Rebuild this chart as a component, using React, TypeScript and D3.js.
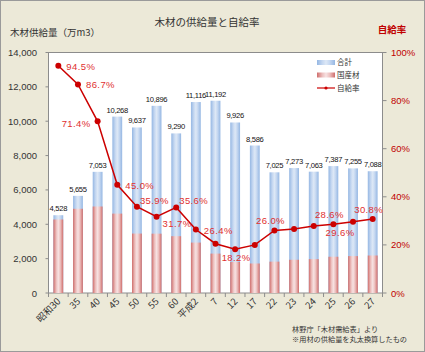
import React from "react";
import * as d3 from "d3";

const categories = ["昭和30", "35", "40", "45", "50", "55", "60", "平成2", "7", "12", "17", "22", "23", "24", "25", "26", "27"];
const totalSupply = [4528, 5655, 7053, 10268, 9637, 10896, 9290, 11116, 11192, 9926, 8586, 7025, 7273, 7063, 7387, 7255, 7088];
const domesticSupply = [4279, 4903, 5036, 4621, 3460, 3454, 3307, 2935, 2294, 1806, 1718, 1826, 1935, 1971, 2111, 2148, 2183];
const selfSufficiency = [94.5, 86.7, 71.4, 45.0, 35.9, 31.7, 35.6, 26.4, 20.5, 18.2, 20.0, 26.0, 26.6, 27.9, 28.6, 29.6, 30.8];
const rateLabelShown = [true, true, true, true, true, true, true, true, false, true, false, true, false, false, true, true, true];
const rateLabelPlace = ["r", "r", "l", "r", "ra", "rb", "ra", "r", "", "b", "", "a", "", "", "a", "lb", "a"];
const leftTicks = [0, 2000, 4000, 6000, 8000, 10000, 12000, 14000];
const rightTicks = [0, 20, 40, 60, 80, 100];

const W = 425, H = 352;
const plot = { left: 48.5, right: 382.5, top: 52.5, bottom: 293 };
const jp = "'Noto Sans CJK JP', 'Noto Sans', sans-serif";
const num = "'Liberation Sans', Arial, sans-serif";

export default function App() {
  const x = d3.scaleBand<string>().domain(categories).range([plot.left, plot.right]).paddingInner(0.5).paddingOuter(0.25);
  const yL = d3.scaleLinear().domain([0, 14000]).range([plot.bottom, plot.top]);
  const yR = d3.scaleLinear().domain([0, 100]).range([plot.bottom, plot.top]);
  const bw = x.bandwidth();
  const cx = (c: string) => (x(c) as number) + bw / 2;
  const step = x.step();

  const line = d3.line<number>().x((_, i) => cx(categories[i])).y((d) => yR(d));

  const place: Record<string, { dx: number; dy: number; anchor: string }> = {
    r: { dx: 8, dy: 4, anchor: "start" },
    l: { dx: -7, dy: 6, anchor: "end" },
    ra: { dx: 3, dy: -3, anchor: "start" },
    rb: { dx: 6, dy: 10, anchor: "start" },
    a: { dx: -4, dy: -6, anchor: "middle" },
    b: { dx: 1, dy: 12, anchor: "middle" },
    lb: { dx: -13, dy: 14, anchor: "middle" },
  };

  return (
    <svg width={W} height={H} style={{ position: "absolute", left: 0, top: 0 }}>
      <defs>
        <linearGradient id="gBlue" x1="0" x2="1" y1="0" y2="0">
          <stop offset="0%" stopColor="#95B7E3" />
          <stop offset="30%" stopColor="#C6D8F1" />
          <stop offset="50%" stopColor="#DDE8F6" />
          <stop offset="70%" stopColor="#C6D8F1" />
          <stop offset="100%" stopColor="#95B7E3" />
        </linearGradient>
        <linearGradient id="gRed" x1="0" x2="1" y1="0" y2="0">
          <stop offset="0%" stopColor="#CF6E6C" />
          <stop offset="30%" stopColor="#EDC1C0" />
          <stop offset="50%" stopColor="#F7E2E2" />
          <stop offset="70%" stopColor="#EDC1C0" />
          <stop offset="100%" stopColor="#CF6E6C" />
        </linearGradient>
      </defs>
      <rect x={0.5} y={0.5} width={W - 1} height={H - 1} fill="#ECE9D8" stroke="#9A9A9A" />
      <rect x={plot.left} y={plot.top} width={plot.right - plot.left} height={plot.bottom - plot.top} fill="#FFFFFF" stroke="#8C8C8C" />

      <text x={207} y={26} textAnchor="middle" fontFamily={jp} fontSize={10.5} fill="#333">木材の供給量と自給率</text>
      <text x={10} y={36} fontFamily={jp} fontSize={9.5} fill="#333">木材供給量（万m3）</text>
      <text x={392} y={33} textAnchor="middle" fontFamily={jp} fontSize={9.5} fontWeight="bold" fill="#C00000">自給率</text>

      {leftTicks.map((t) => (
        <g key={"l" + t}>
          <line x1={plot.left - 3} x2={plot.left} y1={yL(t)} y2={yL(t)} stroke="#8C8C8C" />
          <text x={37} y={yL(t) + 3.5} textAnchor="end" fontFamily={num} fontSize={9.5} fill="#333">{d3.format(",")(t)}</text>
        </g>
      ))}
      {rightTicks.map((t) => (
        <g key={"r" + t}>
          <line x1={plot.right} x2={plot.right + 4} y1={yR(t)} y2={yR(t)} stroke="#8C8C8C" />
          <text x={391} y={yR(t) + 3.5} fontFamily={num} fontSize={9.5} fill="#C00000">{t + "%"}</text>
        </g>
      ))}

      {categories.map((c, i) => (
        <g key={"b" + c}>
          <rect x={x(c)} y={yL(totalSupply[i])} width={bw} height={plot.bottom - yL(totalSupply[i])} fill="url(#gBlue)" />
          <rect x={x(c)} y={yL(domesticSupply[i])} width={bw} height={plot.bottom - yL(domesticSupply[i])} fill="url(#gRed)" />
          <text x={cx(c)} y={yL(totalSupply[i]) - 4} textAnchor="middle" fontFamily={num} fontSize={7.6} letterSpacing={-0.3} fill="#111">{d3.format(",")(totalSupply[i])}</text>
        </g>
      ))}

      {d3.range(categories.length + 1).map((k) => {
        const xx = plot.left + step * k;
        return <line key={"t" + k} x1={xx} x2={xx} y1={plot.bottom} y2={plot.bottom + 4} stroke="#8C8C8C" />;
      })}
      {categories.map((c) => (
        <text key={"x" + c} transform={`translate(${cx(c) + 3},${plot.bottom + 9}) rotate(-45)`} textAnchor="end" fontFamily={jp} fontSize={9.5} fill="#333">{c}</text>
      ))}

      <path d={line(selfSufficiency) || ""} fill="none" stroke="#CC0000" strokeWidth={1.5} />
      {selfSufficiency.map((v, i) => (
        <circle key={"p" + i} cx={cx(categories[i])} cy={yR(v)} r={3} fill="#CC0000" />
      ))}
      {selfSufficiency.map((v, i) => {
        if (!rateLabelShown[i]) return null;
        const p = place[rateLabelPlace[i]];
        return (
          <text key={"pl" + i} x={cx(categories[i]) + p.dx} y={yR(v) + p.dy} textAnchor={p.anchor} fontFamily={num} fontSize={9.5} letterSpacing={0.4} fill="#E03030">{v.toFixed(1) + "%"}</text>
        );
      })}

      <g fontFamily={jp} fontSize={7.5} fill="#333">
        <rect x={317} y={60} width={18} height={5} fill="url(#gBlue)" />
        <text x={337} y={65}>合計</text>
        <rect x={317} y={72.5} width={18} height={5} fill="url(#gRed)" />
        <text x={337} y={78}>国産材</text>
        <line x1={317} x2={335} y1={88} y2={88} stroke="#CC0000" strokeWidth={1.2} />
        <circle cx={326} cy={88} r={1.6} fill="#CC0000" />
        <text x={337} y={91}>自給率</text>
      </g>

      <g fontFamily={jp} fontSize={7.2} fill="#333">
        <text x={292} y={332}>林野庁「木材需給表」より</text>
        <text x={292} y={341.5}>※用材の供給量を丸太換算したもの</text>
      </g>
    </svg>
  );
}
